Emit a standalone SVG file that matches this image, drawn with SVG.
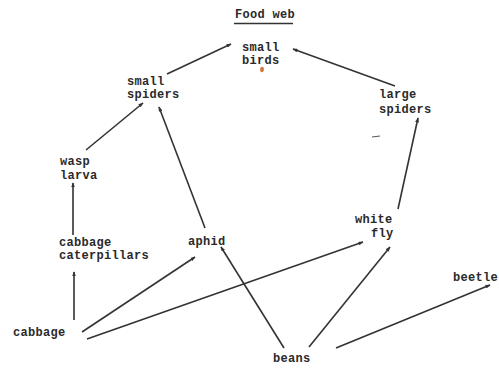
<svg xmlns="http://www.w3.org/2000/svg" width="499" height="371" viewBox="0 0 499 371">
<defs>
<style>
text{font-family:"Liberation Mono","DejaVu Sans Mono",monospace;font-size:12px;font-weight:bold;fill:#2a2a2a;letter-spacing:0.3px}
.e line{stroke:#333;stroke-width:1.6;marker-end:url(#ah)}
</style>
<marker id="ah" viewBox="0 0 8 6" refX="7" refY="3" markerWidth="3.2" markerHeight="2.4" orient="auto" markerUnits="strokeWidth">
<path d="M0,0 L8,3 L0,6 Z" fill="#333"/>
</marker>
</defs>
<rect width="499" height="371" fill="#fff"/>
<g id="title">
<text x="235" y="18">Food web</text>
<line x1="234" y1="23.5" x2="293" y2="23.5" stroke="#333" stroke-width="1.6"/>
</g>
<g id="small-birds"><text x="242" y="51">small</text><text x="242" y="64">birds</text>
<path d="M261,67 q3,-1 3,3 q-1,3 -3,2 q-2,-2 0,-5z" fill="#d27a3a"/></g>
<g id="small-spiders"><text x="127" y="85">small</text><text x="127" y="98">spiders</text></g>
<g id="large-spiders"><text x="379" y="98">large</text><text x="379" y="113">spiders</text>
<line x1="372" y1="137" x2="380" y2="136" stroke="#555" stroke-width="1"/></g>
<g id="wasp-larva"><text x="60" y="165">wasp</text><text x="60" y="179">larva</text></g>
<g id="cabbage-caterpillars"><text x="59" y="246">cabbage</text><text x="59" y="259">caterpillars</text></g>
<g id="aphid"><text x="188" y="245">aphid</text></g>
<g id="white-fly"><text x="355" y="223">white</text><text x="371" y="237">fly</text></g>
<g id="cabbage"><text x="13" y="336">cabbage</text></g>
<g id="beans"><text x="273" y="362">beans</text></g>
<g id="beetle"><text x="453" y="281">beetle</text></g>
<g id="connectors" class="e">
<line x1="167" y1="74" x2="231" y2="44"/>
<line x1="395" y1="86" x2="293" y2="49"/>
<line x1="86" y1="150" x2="143" y2="103"/>
<line x1="205" y1="228" x2="159" y2="107"/>
<line x1="398" y1="209" x2="418" y2="118"/>
<line x1="73" y1="235" x2="73" y2="183"/>
<line x1="74" y1="320" x2="74" y2="272"/>
<line x1="82" y1="332" x2="195" y2="257"/>
<line x1="87" y1="339" x2="363" y2="242"/>
<line x1="284" y1="348" x2="221" y2="247"/>
<line x1="309" y1="347" x2="390" y2="247"/>
<line x1="336" y1="348" x2="490" y2="285"/>
</g>
</svg>
